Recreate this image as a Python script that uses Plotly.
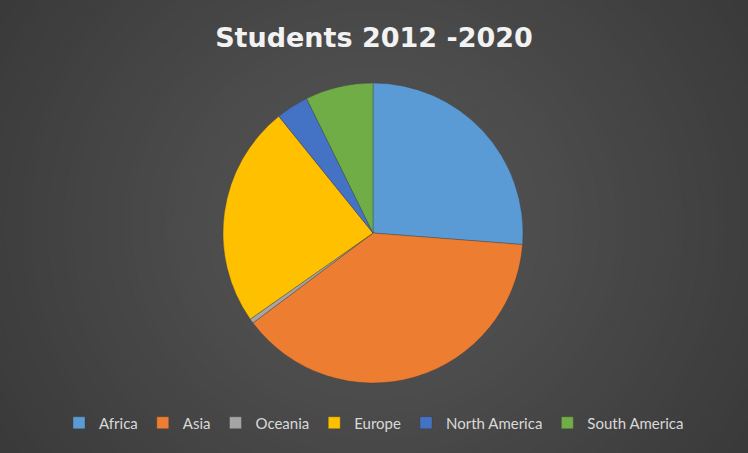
import plotly.graph_objects as go

regions = ["Africa", "Asia", "Oceania", "Europe", "North America", "South America"]
shares = [26.2, 38.5, 0.5, 23.9, 3.5, 7.3]
colors = ["#5B9BD5", "#ED7D31", "#A5A5A5", "#FFC000", "#4472C4", "#70AD47"]

W, H = 748, 453
fig = go.Figure()

fig.add_trace(go.Pie(
    labels=regions,
    values=shares,
    sort=False,
    direction="clockwise",
    rotation=0,
    textinfo="none",
    hoverinfo="label+percent",
    marker=dict(colors=colors, line=dict(color="rgba(60,60,60,0.6)", width=0.6)),
    domain=dict(x=[(373 - 150) / W, (373 + 150) / W],
                y=[(H - 383) / H, (H - 83) / H]),
))

# radial gradient background
shapes = []
n = 90
c_out, c_in = (36, 36, 36), (88, 88, 88)
cx, cy = 374 / W, 1 - 225 / H
for i in range(n):
    t = i / (n - 1)
    rx = 1.0 * (1 - t) + 0.01
    ry = rx * W / H * 0.95
    col = tuple(int(round(c_out[k] + (c_in[k] - c_out[k]) * t)) for k in range(3))
    shapes.append(dict(type="circle", xref="paper", yref="paper",
                       x0=cx - rx, x1=cx + rx, y0=cy - ry, y1=cy + ry,
                       fillcolor="rgb(%d,%d,%d)" % col, line=dict(width=0),
                       layer="below"))

fig.update_layout(
    width=W, height=H,
    margin=dict(l=0, r=0, t=0, b=0),
    paper_bgcolor="#262626",
    plot_bgcolor="rgba(0,0,0,0)",
    shapes=shapes,
    title=dict(text="<b>Students 2012 -2020</b>", x=0.5, xanchor="center",
               y=1 - 38 / H, yanchor="middle", yref="container",
               font=dict(family="DejaVu Sans", size=27, color="#f2f2f2")),
    legend=dict(orientation="h", x=0.5, xanchor="center", y=1 - 423 / H,
                yanchor="middle", font=dict(family="Lato", size=15, color="#d9d9d9"),
                itemwidth=30, traceorder="normal", bgcolor="rgba(0,0,0,0)"),
    showlegend=True,
)

fig.write_html("out.html", config={"displayModeBar": False},
               post_script="document.body.style.margin='0';")
